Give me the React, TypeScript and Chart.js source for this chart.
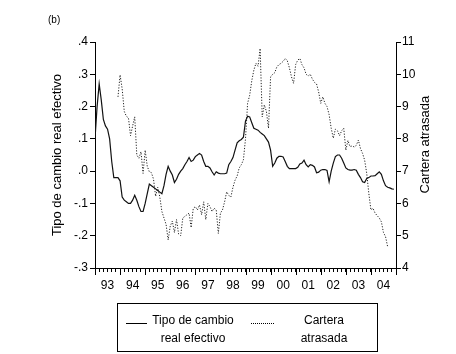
import React, { useEffect, useRef } from "react";
import { Chart, registerables } from "chart.js";

Chart.register(...registerables);

// Monthly observations, Jan 1993 (index 0) .. Dec 2004 (index 143)
const TIPO_CAMBIO: number[] = [
  0.10, 0.20, 0.27, 0.22, 0.16, 0.14, 0.13, 0.10, 0.03, -0.02,
  -0.02, -0.02, -0.03, -0.08, -0.09, -0.095, -0.10, -0.10, -0.09, -0.075,
  -0.09, -0.11, -0.125, -0.125, -0.10, -0.07, -0.04, -0.045, -0.05, -0.055,
  -0.06, -0.065, -0.07, -0.045, -0.01, 0.015, 0.00, -0.012, -0.035, -0.025,
  -0.01, 0.0, 0.008, 0.02, 0.03, 0.042, 0.03, 0.034, 0.045, 0.05,
  0.055, 0.05, 0.03, 0.015, 0.015, 0.01, -0.002, -0.012, -0.002, -0.006,
  -0.008, -0.008, -0.008, -0.006, 0.02, 0.03, 0.042, 0.065, 0.088, 0.094,
  0.098, 0.105, 0.155, 0.17, 0.168, 0.15, 0.133, 0.13, 0.127, 0.12,
  0.115, 0.11, 0.10, 0.09, 0.065, 0.015, 0.025, 0.04, 0.046, 0.046,
  0.044, 0.03, 0.015, 0.008, 0.008, 0.008, 0.008, 0.012, 0.022, 0.025,
  0.034, 0.02, 0.013, 0.02, 0.018, 0.013, -0.005, -0.003, 0.003, 0.005,
  0.005, 0.002, -0.033, 0.0, 0.025, 0.045, 0.05, 0.05, 0.04, 0.025,
  0.01, 0.005, 0.003, 0.003, 0.005, 0.003, -0.01, -0.02, -0.033, -0.035,
  -0.023, -0.02, -0.015, -0.015, -0.014, -0.008, -0.002, -0.01, -0.03, -0.045,
  -0.05, -0.052, -0.055, -0.056,
];

// Cartera atrasada starts at month index 11 (Dec 1993)
const CARTERA_START = 11;
const CARTERA: number[] = [
  9.30,
  9.98, 9.55, 8.85, 8.70, 8.65, 8.10, 8.40, 8.68, 7.50, 7.40,
  7.60, 6.93, 7.65, 7.15, 6.98, 6.95, 6.75, 6.22, 6.50, 6.20,
  5.75, 5.55, 5.35, 4.87, 5.30, 5.45, 5.10, 5.50, 5.05, 5.00,
  5.55, 5.60, 5.65, 5.70, 5.25, 5.85, 5.90, 5.80, 5.95, 5.65,
  6.05, 5.50, 6.00, 5.90, 5.75, 5.85, 5.80, 5.07, 5.70, 5.80,
  6.05, 6.36, 6.25, 6.20, 6.50, 6.72, 6.85, 7.10, 7.20, 7.35,
  8.00, 9.10, 9.35, 9.80, 10.13, 10.34, 10.25, 10.80, 8.68, 9.05,
  8.85, 8.33, 9.92, 10.00, 10.05, 10.23, 10.30, 10.34, 10.40, 10.49,
  10.42, 10.20, 9.92, 9.72, 10.30, 10.44, 10.49, 10.30, 10.20, 10.00,
  9.95, 10.00, 9.85, 9.75, 9.70, 9.45, 9.10, 9.30, 9.10, 9.00,
  8.75, 8.33, 8.02, 8.30, 8.25, 8.10, 8.25, 8.33, 7.65, 7.95,
  7.76, 7.78, 7.75, 7.80, 7.96, 7.70, 7.55, 7.34, 6.93, 6.31,
  5.80, 5.85, 5.70, 5.62, 5.55, 5.43, 5.10, 4.97, 4.66,
];

const YEAR_LABELS: string[] = ["93", "94", "95", "96", "97", "98", "99", "00", "01", "02", "03", "04"];
const LEFT_RANGE: number[] = [-0.3, 0.4];
const RIGHT_RANGE: number[] = [4, 11];
const LEFT_TITLE = "Tipo de cambio real efectivo";
const RIGHT_TITLE = "Cartera atrasada";

const FONT = "'Liberation Sans', Arial, Helvetica, sans-serif";

const yearTickPlugin = {
  id: "yearTicks",
  afterDraw(chart: any) {
    const s = chart.scales.x;
    const ctx = chart.ctx;
    ctx.save();
    ctx.strokeStyle = "#000";
    ctx.lineWidth = 1;
    for (let k = 0; k <= YEAR_LABELS.length; k++) {
      const px = Math.round(s.getPixelForValue(k * 12)) + 0.5;
      ctx.beginPath();
      ctx.moveTo(px, s.top);
      ctx.lineTo(px, s.top + 7);
      ctx.stroke();
    }
    ctx.restore();
  },
};

// Right-axis title reads bottom-to-top, like the left one
const rightTitlePlugin = {
  id: "rightTitle",
  afterDraw(chart: any) {
    const s = chart.scales.y2;
    const ctx = chart.ctx;
    ctx.save();
    ctx.fillStyle = "#000";
    ctx.font = `13px ${FONT}`;
    ctx.textAlign = "center";
    ctx.textBaseline = "middle";
    ctx.translate(s.right - 10.5, s.getPixelForValue(7.82));
    ctx.rotate(-Math.PI / 2);
    ctx.fillText(RIGHT_TITLE, 0, 0);
    ctx.restore();
  },
};

export default function App() {
  const ref = useRef<HTMLCanvasElement | null>(null);

  useEffect(() => {
    if (!ref.current) return;
    const chart = new Chart(ref.current, {
      type: "line",
      data: {
        datasets: [
          {
            label: LEFT_TITLE,
            data: TIPO_CAMBIO.map((v, i) => ({ x: i, y: v })),
            yAxisID: "y",
            borderColor: "#111",
            borderWidth: 1.2,
            pointRadius: 0,
            tension: 0,
          },
          {
            label: RIGHT_TITLE,
            data: CARTERA.map((v, i) => ({ x: i + CARTERA_START, y: v })),
            yAxisID: "y2",
            borderColor: "#222",
            borderWidth: 1,
            borderDash: [1.2, 1.6],
            pointRadius: 0,
            tension: 0,
          },
        ],
      },
      options: {
        animation: false,
        responsive: false,
        maintainAspectRatio: false,
        layout: { padding: { left: 48, right: 20, top: 14, bottom: 56 } },
        plugins: {
          legend: { display: false },
          tooltip: { enabled: false },
          title: {
            display: true,
            text: "(b)",
            align: "start",
            color: "#000",
            font: { family: FONT, size: 10, weight: "normal" },
            padding: { top: 0, bottom: 16 },
          },
        },
        scales: {
          x: {
            type: "linear",
            min: 0,
            max: YEAR_LABELS.length * 12,
            afterBuildTicks: (s: any) => {
              const t = [];
              for (let v = 0; v <= YEAR_LABELS.length * 12; v += 2) t.push({ value: v });
              s.ticks = t;
            },
            afterFit: (s: any) => {
              s.height = 30;
            },
            ticks: {
              autoSkip: false,
              maxRotation: 0,
              minRotation: 0,
              padding: 6,
              color: "#000",
              font: { family: FONT, size: 12 },
              callback: (v: any) => {
                const n = Number(v);
                if ((n - 6) % 12 === 0) return YEAR_LABELS[(n - 6) / 12] ?? "";
                return "";
              },
            },
            grid: { drawOnChartArea: false, drawTicks: true, tickLength: 4, color: "#000" },
            border: { display: true, color: "#000", width: 1 },
          },
          y: {
            position: "left",
            min: LEFT_RANGE[0],
            max: LEFT_RANGE[1],
            afterFit: (s: any) => {
              s.width = 47;
            },
            ticks: {
              stepSize: 0.1,
              padding: 2,
              color: "#000",
              font: { family: FONT, size: 12 },
              callback: (v: any) => {
                const n = Number(v);
                if (Math.abs(n) < 1e-9) return ".0";
                return n.toFixed(1).replace("0.", ".");
              },
            },
            grid: { drawOnChartArea: false, drawTicks: true, tickLength: 5, color: "#000" },
            border: { display: true, color: "#000", width: 1 },
            title: {
              display: true,
              text: LEFT_TITLE,
              color: "#000",
              font: { family: FONT, size: 13 },
              padding: { top: 2, bottom: 4 },
            },
          },
          y2: {
            position: "right",
            min: RIGHT_RANGE[0],
            max: RIGHT_RANGE[1],
            afterFit: (s: any) => {
              s.width = 40;
            },
            ticks: {
              stepSize: 1,
              padding: 1,
              color: "#000",
              font: { family: FONT, size: 12 },
            },
            grid: { drawOnChartArea: false, drawTicks: true, tickLength: 5, color: "#000" },
            border: { display: true, color: "#000", width: 1 },
            title: { display: false },
          },
        },
      } as any,
      plugins: [yearTickPlugin, rightTitlePlugin],
    });
    return () => chart.destroy();
  }, []);

  const txt: React.CSSProperties = {
    position: "absolute",
    fontFamily: FONT,
    fontSize: 12,
    lineHeight: "18px",
    color: "#000",
    textAlign: "center",
    whiteSpace: "nowrap",
  };

  return (
    <div style={{ position: "fixed", left: 0, top: 0, width: 456, height: 354, background: "#fff" }}>
      <canvas ref={ref} width={456} height={354} style={{ display: "block", width: 456, height: 354 }} />
      <div
        style={{
          position: "absolute",
          left: 117,
          top: 303,
          width: 261,
          height: 49,
          boxSizing: "border-box",
          border: "1px solid #000",
        }}
      >
        <div style={{ position: "absolute", left: 8, top: 19, width: 21, borderTop: "1px solid #000" }} />
        <div style={{ ...txt, left: 30, top: 7, width: 90 }}>Tipo de cambio</div>
        <div style={{ ...txt, left: 30, top: 25, width: 90 }}>real efectivo</div>
        <div style={{ position: "absolute", left: 133, top: 19, width: 23, borderTop: "1px dotted #000" }} />
        <div style={{ ...txt, left: 166, top: 7, width: 80 }}>Cartera</div>
        <div style={{ ...txt, left: 166, top: 25, width: 80 }}>atrasada</div>
      </div>
    </div>
  );
}
